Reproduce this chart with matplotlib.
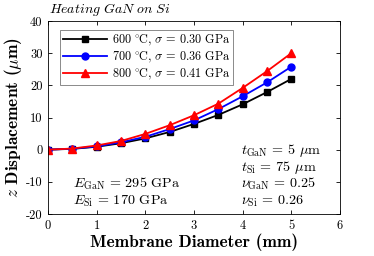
import matplotlib
matplotlib.use("Agg")
import matplotlib.pyplot as plt

plt.rcParams['font.family'] = 'serif'
plt.rcParams['font.serif'] = ['cmr10']
plt.rcParams['mathtext.fontset'] = 'cm'
plt.rcParams['axes.unicode_minus'] = False
plt.rcParams['axes.formatter.use_mathtext'] = False

diam = [0, 0.5, 1, 1.5, 2, 2.5, 3, 3.5, 4, 4.5, 5]
z600 = [0, 0.25, 0.9, 2.0, 3.5, 5.5, 8.0, 10.8, 14.1, 17.9, 22.0]
z700 = [0, 0.3, 1.0, 2.3, 4.0, 6.4, 9.1, 12.6, 16.6, 20.9, 25.8]
z800 = [0, 0.35, 1.3, 2.7, 4.9, 7.6, 10.7, 14.3, 19.2, 24.4, 30.0]
labels = [r'600 $^{\circ}\!\mathrm{C}$, $\sigma$ = 0.30 GPa',
          r'700 $^{\circ}\!\mathrm{C}$, $\sigma$ = 0.36 GPa',
          r'800 $^{\circ}\!\mathrm{C}$, $\sigma$ = 0.41 GPa']
xticks = [0, 1, 2, 3, 4, 5, 6]
yticks = [-20, -10, 0, 10, 20, 30, 40]

fig = plt.figure(figsize=(3.74, 2.56), dpi=100)
ax = fig.add_axes([48/374, 1-214/256, (340-48)/374, (214-21)/256])

ax.plot(diam, z600, '-s', color='black', lw=1.3, ms=4.5, label=labels[0])
ax.plot(diam, z700, '-o', color='blue', lw=1.3, ms=5, label=labels[1])
ax.plot(diam, z800, '-^', color='red', lw=1.3, ms=6, label=labels[2])

ax.set_xlim(0, 6)
ax.set_ylim(-20, 40)
ax.set_xticks(xticks)
ax.set_yticks(yticks)
ax.set_xticklabels([str(v) for v in xticks], fontfamily='cmr10')
ax.set_yticklabels([str(v) for v in yticks], fontfamily='cmr10')
ax.tick_params(direction='in', top=True, right=True, labelsize=9, length=3, width=0.6, pad=4)
for s in ax.spines.values():
    s.set_linewidth(0.6)

ax.set_xlabel('Membrane Diameter (mm)', fontfamily='cmb10', fontsize=12.5, labelpad=1)
ax.set_ylabel(r'$z$ Displacement ($\mu$m)', fontfamily='cmb10', fontsize=12.5, labelpad=1)

fig.text(49/374, 1-9/256, r'$\mathit{Heating\ GaN\ on\ Si}$', fontsize=10,
         ha='left', va='center')

leg = ax.legend(loc='upper left', bbox_to_anchor=(0.04, 0.955), fontsize=8.8,
                frameon=True, fancybox=False, edgecolor='#555555', handlelength=3.6,
                borderpad=0.25, labelspacing=0.15, handletextpad=0.4, borderaxespad=0)
leg.get_frame().set_linewidth(0.6)

fs = 10.2
ax.text(0.085, 0.154, r'$E_{\rm GaN}$ = 295 GPa', transform=ax.transAxes, fontsize=fs, va='center')
ax.text(0.085, 0.064, r'$E_{\rm Si}$ = 170 GPa', transform=ax.transAxes, fontsize=fs, va='center')
ax.text(0.66, 0.329, r'$t_{\rm GaN}$ = 5 $\mu$m', transform=ax.transAxes, fontsize=fs, va='center')
ax.text(0.66, 0.242, r'$t_{\rm Si}$ = 75 $\mu$m', transform=ax.transAxes, fontsize=fs, va='center')
ax.text(0.66, 0.155, r'$\nu_{\rm GaN}$ = 0.25', transform=ax.transAxes, fontsize=fs, va='center')
ax.text(0.66, 0.068, r'$\nu_{\rm Si}$ = 0.26', transform=ax.transAxes, fontsize=fs, va='center')

fig.savefig('out.png', dpi=100)
